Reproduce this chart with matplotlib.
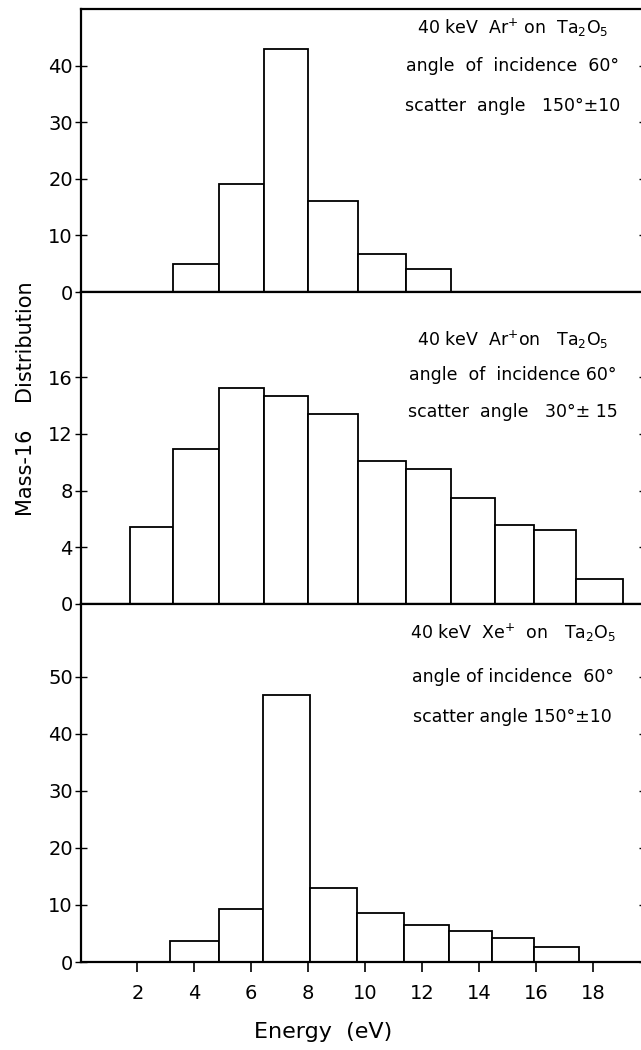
import numpy as np
import matplotlib
matplotlib.use('Agg')
import matplotlib.pyplot as plt

plt.rcParams.update({'font.family': 'DejaVu Sans', 'font.size': 13})

# bin edges (eV) and mass-16 counts per panel
top_edges = [3.25, 4.85, 6.45, 8.0, 9.75, 11.45, 13.0]
top_vals = [5.0, 19.0, 43.0, 16.0, 6.8, 4.1]

mid_edges = [1.75, 3.25, 4.85, 6.45, 8.0, 9.75, 11.45, 13.0, 14.55, 15.95, 17.4, 19.05]
mid_vals = [5.4, 10.9, 15.25, 14.65, 13.4, 10.05, 9.5, 7.45, 5.6, 5.2, 1.75]

bot_edges = [3.15, 4.85, 6.4, 8.05, 9.7, 11.35, 12.95, 14.45, 15.95, 17.5]
bot_vals = [3.75, 9.3, 46.8, 13.0, 8.55, 6.55, 5.4, 4.2, 2.55]

top_yticks = [0, 10, 20, 30, 40]
mid_yticks = [0, 4, 8, 12, 16]
bot_yticks = [0, 10, 20, 30, 40, 50]
xticks = [2, 4, 6, 8, 10, 12, 14, 16, 18]

top_text = ['40 keV  Ar$^{+}$ on  Ta$_{2}$O$_{5}$', 'angle  of  incidence  60°', 'scatter  angle   150°±10']
mid_text = ['40 keV  Ar$^{+}$on   Ta$_{2}$O$_{5}$', 'angle  of  incidence 60°', 'scatter  angle   30°± 15']
bot_text = ['40 keV  Xe$^{+}$  on   Ta$_{2}$O$_{5}$', 'angle of incidence  60°', 'scatter angle 150°±10']

fig = plt.figure(figsize=(6.41, 10.5), dpi=100)
L, W = 0.1256, 0.8814
panels = [
    (0.7219, 0.2695, top_edges, top_vals, 50, top_yticks, top_text, [0.933, 0.80, 0.657]),
    (0.4248, 0.2971, mid_edges, mid_vals, 22, mid_yticks, mid_text, [0.846, 0.734, 0.615]),
    (0.0838, 0.3410, bot_edges, bot_vals, 62.8, bot_yticks, bot_text, [0.919, 0.796, 0.684]),
]

for i, (b, h, edges, vals, ymax, yt, txt, ty) in enumerate(panels):
    ax = fig.add_axes([L, b, W, h])
    e = np.array(edges)
    ax.bar(e[:-1], vals, width=np.diff(e), align='edge', facecolor='white',
           edgecolor='black', linewidth=1.3)
    ax.set_xlim(0, 19.85)
    ax.set_ylim(0, ymax)
    ax.set_yticks(yt)
    ax.set_xticks(xticks)
    for s in ax.spines.values():
        s.set_linewidth(1.6)
    ax.tick_params(axis='x', direction='out', length=7, width=1.2, pad=9, labelsize=14)
    ax.tick_params(axis='y', direction='inout', length=9, width=1.0, pad=1, labelsize=14,
                   right=True)
    if i < 2:
        ax.set_xticklabels([])
    for t, y in zip(txt, ty):
        ax.text(0.765, y, t, transform=ax.transAxes, ha='center', va='center', fontsize=12.5)

fig.text(0.04, 0.62, 'Mass-16    Distribution', rotation=90, ha='center', va='center', fontsize=15)
fig.text(0.504, 0.017, 'Energy  (eV)', ha='center', va='center', fontsize=16)

fig.savefig('out.png', dpi=100)
